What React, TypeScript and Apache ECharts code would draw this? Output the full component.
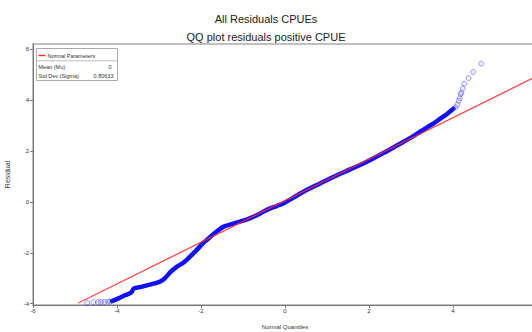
import React, { useEffect, useRef } from "react";
import * as echarts from "echarts";

const titleLines = ["All Residuals CPUEs", "QQ plot residuals positive CPUE"];
const xTicks = [-6, -4, -2, 0, 2, 4];
const yTicks = [-4, -2, 0, 2, 4, 6];
const xAxisTitle = "Normal Quantiles";
const yAxisTitle = "Residual";
const legendTitle = "Normal Parameters";
const legendRows = [
  ["Mean (Mu)", "0"],
  ["Std Dev (Sigma)", "0.80633"],
];

// dense part of the residual quantiles (normal quantile, residual)
const denseQuantiles: number[][] = [
  [-4.12, -3.9], [-3.95, -3.78], [-3.8, -3.66], [-3.66, -3.56], [-3.6, -3.4],
  [-3.4, -3.33], [-3.15, -3.22], [-2.97, -3.13], [-2.85, -2.98], [-2.73, -2.76],
  [-2.58, -2.55], [-2.42, -2.39], [-2.28, -2.18], [-2.1, -1.88], [-1.95, -1.62],
  [-1.86, -1.49], [-1.77, -1.36], [-1.62, -1.15], [-1.46, -0.97], [-1.25, -0.86],
  [-1.07, -0.77], [-0.9, -0.68], [-0.75, -0.58], [-0.6, -0.46], [-0.43, -0.31],
  [-0.2, -0.16], [-0.03, -0.05], [0.2, 0.17], [0.44, 0.4], [0.8, 0.7],
  [1.16, 0.99], [1.55, 1.28], [1.95, 1.58], [2.35, 1.93], [2.75, 2.3],
  [3.0, 2.53], [3.22, 2.76], [3.4, 2.95], [3.54, 3.09], [3.7, 3.28],
  [3.85, 3.45], [4.01, 3.67],
];
// sparse tail points
const lowTail: number[][] = [
  [-4.71, -3.96], [-4.56, -3.94], [-4.45, -3.94], [-4.38, -3.93],
  [-4.3, -3.93], [-4.22, -3.92], [-4.17, -3.92],
];
const highTail: number[][] = [
  [4.06, 3.72], [4.1, 3.82], [4.14, 3.98], [4.16, 4.08], [4.18, 4.24],
  [4.2, 4.3], [4.23, 4.46], [4.27, 4.65], [4.37, 4.87], [4.48, 5.11], [4.67, 5.44],
];
// reference normal line (mu = 0, sigma = 0.80633)
const normalLine: number[][] = [[-4.92, -3.97], [5.89, 4.86]];

const FONT = "'Liberation Sans', Arial, sans-serif";

export default function App() {
  const ref = useRef<HTMLDivElement>(null);
  useEffect(() => {
    document.body.style.margin = "0";
    const chart = echarts.init(ref.current!, null, { renderer: "svg" });
    const tailStyle = {
      color: "rgba(120,120,255,0.15)",
      borderColor: "rgba(40,40,255,0.55)",
      borderWidth: 1,
    };
    chart.setOption({
      animation: false,
      backgroundColor: "#fff",
      title: {
        text: titleLines.join("\n"),
        left: "center",
        top: 5,
        textStyle: { fontSize: 11, fontWeight: "normal", color: "#222", lineHeight: 18, fontFamily: FONT },
      },
      grid: {
        left: 33,
        right: -5,
        top: 44,
        bottom: 27,
        outerBoundsMode: "none",
        containLabel: false,
        show: true,
        borderColor: "#aaa",
        borderWidth: 1.5,
        backgroundColor: "transparent",
      },
      xAxis: {
        type: "value",
        min: -6,
        max: 6,
        name: xAxisTitle,
        nameLocation: "middle",
        nameGap: 19,
        nameTextStyle: { fontSize: 6, color: "#333", fontFamily: FONT },
        splitLine: { show: false },
        axisLine: { onZero: false, lineStyle: { color: "#777", width: 1 } },
        axisTick: { customValues: xTicks, length: 3, lineStyle: { color: "#777" } },
        axisLabel: { customValues: xTicks, fontSize: 6, color: "#333", margin: 3, fontFamily: FONT },
      },
      yAxis: {
        type: "value",
        min: -4.05,
        max: 6.21,
        name: yAxisTitle,
        nameLocation: "middle",
        nameGap: 22,
        nameRotate: 90,
        nameTextStyle: { fontSize: 7, color: "#333", fontFamily: FONT },
        splitLine: { show: false },
        axisLine: { show: true, onZero: false, lineStyle: { color: "#777", width: 1 } },
        axisTick: { show: true, customValues: yTicks, length: 3, lineStyle: { color: "#777" } },
        axisLabel: { customValues: yTicks, fontSize: 6, color: "#333", margin: 4, fontFamily: FONT },
      },
      series: [
        {
          type: "line",
          data: denseQuantiles,
          showSymbol: false,
          smooth: 0.3,
          lineStyle: { color: "#1010ff", width: 4.5, cap: "round", join: "round" },
          z: 2,
        },
        {
          type: "scatter",
          data: lowTail,
          symbol: "circle",
          symbolSize: 5,
          itemStyle: tailStyle,
          z: 2,
        },
        {
          type: "scatter",
          data: highTail,
          symbol: "circle",
          symbolSize: 5,
          itemStyle: tailStyle,
          z: 2,
        },
        {
          type: "line",
          data: normalLine,
          showSymbol: false,
          lineStyle: { color: "rgba(255,40,40,0.85)", width: 1.3 },
          z: 3,
        },
      ],
      graphic: [
        {
          type: "group",
          left: 34,
          top: 48,
          z: 10,
          children: [
            { type: "rect", shape: { x: 0, y: 0, width: 81, height: 32 }, style: { fill: "#fff", stroke: "#aaa", lineWidth: 1 } },
            { type: "line", shape: { x1: 0, y1: 12.3, x2: 81, y2: 12.3 }, style: { stroke: "#bbb", lineWidth: 1 } },
            { type: "line", shape: { x1: 2, y1: 7, x2: 9, y2: 7 }, style: { stroke: "#ff3030", lineWidth: 1.5 } },
            { type: "text", x: 11, y: 7, style: { text: legendTitle, fontSize: 5.5, fill: "#333", verticalAlign: "middle", fontFamily: FONT } },
            { type: "text", x: 2, y: 18.3, style: { text: legendRows[0][0], fontSize: 5.5, fill: "#333", verticalAlign: "middle", fontFamily: FONT } },
            { type: "text", x: 75, y: 18.3, style: { text: legendRows[0][1], fontSize: 5.5, fill: "#333", verticalAlign: "middle", align: "right", fontFamily: FONT } },
            { type: "text", x: 2, y: 27.3, style: { text: legendRows[1][0], fontSize: 5.5, fill: "#333", verticalAlign: "middle", fontFamily: FONT } },
            { type: "text", x: 77, y: 27.3, style: { text: legendRows[1][1], fontSize: 5.5, fill: "#333", verticalAlign: "middle", align: "right", fontFamily: FONT } },
          ],
        },
      ],
    });
    return () => chart.dispose();
  }, []);
  return <div ref={ref} style={{ width: 532, height: 332 }} />;
}
